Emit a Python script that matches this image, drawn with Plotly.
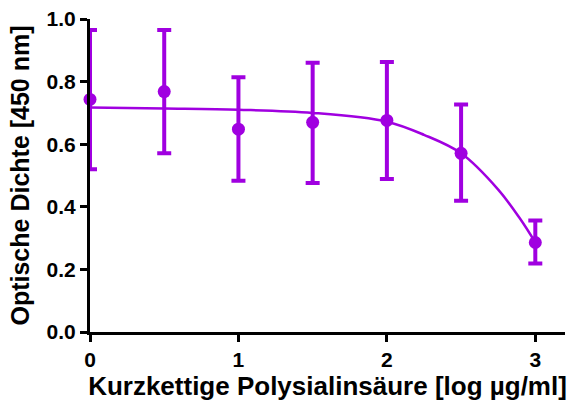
import plotly.graph_objects as go

x_pts = [0, 0.5, 1, 1.5, 2, 2.5, 3]
y_mean = [0.743, 0.768, 0.648, 0.670, 0.676, 0.571, 0.286]
y_upper = [0.965, 0.965, 0.814, 0.860, 0.863, 0.727, 0.356]
y_lower = [0.520, 0.571, 0.483, 0.476, 0.489, 0.419, 0.219]

curve_x = [0, 0.5, 1, 1.5, 2, 2.25, 2.5, 2.75, 2.9, 3]
curve_y = [0.717, 0.714, 0.710, 0.700, 0.672, 0.630, 0.571, 0.455, 0.360, 0.286]

x_ticks = [0, 1, 2, 3]
y_ticks = [0.0, 0.2, 0.4, 0.6, 0.8, 1.0]

purple = "#A000E0"
font = "Liberation Sans, Arial, sans-serif"

err_plus = [u - m for u, m in zip(y_upper, y_mean)]
err_minus = [m - l for m, l in zip(y_mean, y_lower)]

fig = go.Figure()
fig.add_trace(go.Scatter(
    x=curve_x, y=curve_y, mode="lines", line=dict(color=purple, width=2.5, shape="spline"),
    hoverinfo="skip", cliponaxis=False))
fig.add_trace(go.Scatter(
    x=x_pts, y=y_mean, mode="markers",
    marker=dict(color=purple, size=13),
    error_y=dict(type="data", symmetric=False, array=err_plus, arrayminus=err_minus,
                 color=purple, thickness=4, width=7),
    cliponaxis=False))

fig.update_layout(
    width=572, height=411,
    margin=dict(l=90, r=7, t=17, b=79),
    plot_bgcolor="white", paper_bgcolor="white",
    showlegend=False,
    font=dict(family=font, size=21, color="black"),
    xaxis=dict(
        range=[0, 3.2], tickvals=x_ticks, ticktext=[str(v) for v in x_ticks],
        showline=True, linecolor="black", linewidth=3, ticks="outside",
        tickwidth=3, ticklen=7, tickcolor="black", showgrid=False, zeroline=False,
        tickfont=dict(family=font, size=21, color="black", weight="bold"),
        title=dict(text="<b>Kurzkettige Polysialinsäure [log µg/ml]</b>",
                   font=dict(family=font, size=26, color="black"), standoff=5),
    ),
    yaxis=dict(
        range=[0, 1.0], tickvals=y_ticks, ticktext=["%.1f" % v for v in y_ticks],
        showline=True, linecolor="black", linewidth=3, ticks="outside",
        tickwidth=3, ticklen=7, tickcolor="black", showgrid=False, zeroline=False,
        tickfont=dict(family=font, size=21, color="black", weight="bold"),
        title=dict(text="<b>Optische Dichte [450 nm]</b>",
                   font=dict(family=font, size=25, color="black"), standoff=10),
    ),
)

fig.write_html("out.html")
